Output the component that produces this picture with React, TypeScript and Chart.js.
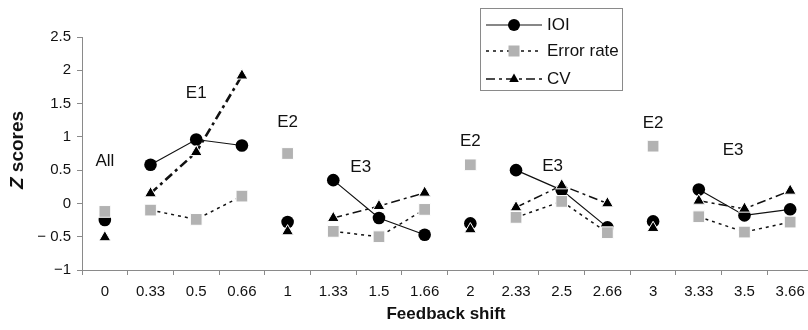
import React, { useEffect, useRef } from "react";
import { Chart, registerables } from "chart.js";

Chart.register(...registerables);

const categories = ["0", "0.33", "0.5", "0.66", "1", "1.33", "1.5", "1.66", "2", "2.33", "2.5", "2.66", "3", "3.33", "3.5", "3.66"];
const ioi = [-0.25, 0.58, 0.96, 0.87, -0.28, 0.35, -0.22, -0.47, -0.3, 0.5, 0.2, -0.36, -0.27, 0.21, -0.18, -0.09];
const errorRate = [-0.12, -0.1, -0.24, 0.11, 0.75, -0.42, -0.5, -0.09, 0.58, -0.21, 0.03, -0.44, 0.86, -0.2, -0.43, -0.28];
const cv = [-0.51, 0.15, 0.77, 1.92, -0.42, -0.22, -0.04, 0.16, -0.39, -0.06, 0.27, 0.0, -0.37, 0.04, -0.08, 0.19];
// indices of points that start a drawn segment (groups E1 and E3)
const linkedStarts = [1, 2, 5, 6, 9, 10, 13, 14];
const annotLabels = ["All", "E1", "E2", "E3", "E2", "E3", "E2", "E3"];
const annotX = [0, 2, 4, 5.6, 8, 9.8, 12, 13.75];
const annotY = [0.63, 1.65, 1.22, 0.54, 0.93, 0.56, 1.2, 0.8];
const yMin = -1;
const yMax = 2.5;
const yStep = 0.5;

const FONT = "'Liberation Sans', Arial, sans-serif";
const GRAY_SQ = "#b2b2b2";
const AXIS = "#8a8a8a";

const linked = (ctx: any) => linkedStarts.includes(ctx.p0DataIndex);

const overlayPlugin = {
  id: "overlay",
  afterDraw(chart: any) {
    const { ctx, scales } = chart;
    const xs = scales.x;
    const ys = scales.y;
    ctx.save();
    // annotations
    ctx.fillStyle = "#111";
    ctx.font = `17px ${FONT}`;
    ctx.textAlign = "center";
    ctx.textBaseline = "middle";
    annotLabels.forEach((t, i) => {
      ctx.fillText(t, xs.getPixelForValue(annotX[i]), ys.getPixelForValue(annotY[i]));
    });
    // x title
    ctx.font = `bold 17px ${FONT}`;
    ctx.fillText("Feedback shift", 446, 314);
    // y title
    ctx.save();
    ctx.translate(18, 150);
    ctx.rotate(-Math.PI / 2);
    ctx.font = `italic bold 19px ${FONT}`;
    const zw = ctx.measureText("Z").width;
    ctx.font = `bold 19px ${FONT}`;
    const sw = ctx.measureText(" scores").width;
    const start = -(zw + sw) / 2;
    ctx.textAlign = "left";
    ctx.font = `italic bold 19px ${FONT}`;
    ctx.fillText("Z", start, 0);
    ctx.font = `bold 19px ${FONT}`;
    ctx.fillText(" scores", start + zw, 0);
    ctx.restore();

    // legend
    const bx = 480.5, by = 8.5, bw = 142, bh = 82;
    ctx.strokeStyle = AXIS;
    ctx.lineWidth = 1;
    ctx.strokeRect(bx, by, bw, bh);
    const rows = [
      { y: 25, label: "IOI", dash: [] as number[], w: 1.2 },
      { y: 51, label: "Error rate", dash: [3, 4], w: 1.5 },
      { y: 79, label: "CV", dash: [9, 4, 3, 4], w: 1.5 },
    ];
    rows.forEach((r, i) => {
      ctx.save();
      ctx.strokeStyle = "#111";
      ctx.lineWidth = r.w;
      ctx.setLineDash(r.dash);
      ctx.beginPath();
      ctx.moveTo(486, r.y);
      ctx.lineTo(542, r.y);
      ctx.stroke();
      ctx.restore();
      const mx = 514;
      if (i === 0) {
        ctx.fillStyle = "#000";
        ctx.beginPath();
        ctx.arc(mx, r.y, 6, 0, Math.PI * 2);
        ctx.fill();
      } else if (i === 1) {
        ctx.fillStyle = GRAY_SQ;
        ctx.fillRect(mx - 5.5, r.y - 5.5, 11, 11);
      } else {
        ctx.fillStyle = "#000";
        ctx.beginPath();
        ctx.moveTo(mx, r.y - 5.5);
        ctx.lineTo(mx + 4.8, r.y + 3);
        ctx.lineTo(mx - 4.8, r.y + 3);
        ctx.closePath();
        ctx.fill();
      }
      ctx.fillStyle = "#111";
      ctx.font = `17px ${FONT}`;
      ctx.textAlign = "left";
      ctx.textBaseline = "middle";
      ctx.fillText(r.label, 547, r.y);
    });
    ctx.restore();
  },
};

export default function App() {
  const ref = useRef<HTMLCanvasElement | null>(null);
  useEffect(() => {
    if (!ref.current) return;
    const chart = new Chart(ref.current, {
      type: "line",
      data: {
        labels: categories,
        datasets: [
          {
            label: "IOI",
            data: ioi,
            order: 3,
            borderColor: "#111",
            borderWidth: 1.2,
            pointStyle: "circle",
            pointRadius: 6.3,
            pointBackgroundColor: "#000",
            pointBorderColor: "#000",
            pointBorderWidth: 0,
            segment: {
              borderColor: (c: any) => (linked(c) ? "#111" : "rgba(0,0,0,0)"),
            },
          },
          {
            label: "Error rate",
            data: errorRate,
            order: 2,
            borderColor: "#111",
            borderWidth: 1.5,
            borderDash: [3, 4],
            pointStyle: "rect",
            pointRadius: 8.3,
            pointBackgroundColor: GRAY_SQ,
            pointBorderColor: "#fff",
            pointBorderWidth: 1,
            segment: {
              borderColor: (c: any) => (linked(c) ? "#111" : "rgba(0,0,0,0)"),
            },
          },
          {
            label: "CV",
            data: cv,
            order: 1,
            borderColor: "#111",
            borderWidth: 1.5,
            borderDash: [9, 4, 3, 4],
            pointStyle: "triangle",
            pointRadius: 6.8,
            pointBackgroundColor: "#000",
            pointBorderColor: "#fff",
            pointBorderWidth: 1,
            segment: {
              borderColor: (c: any) => (linked(c) ? "#111" : "rgba(0,0,0,0)"),
              borderWidth: (c: any) => (c.p0DataIndex === 1 || c.p0DataIndex === 2 ? 2.6 : 1.5),
            },
          },
        ],
      },
      options: {
        responsive: false,
        maintainAspectRatio: false,
        animation: false,
        devicePixelRatio: 1,
        layout: { padding: { left: 0, right: 17, top: 37, bottom: 0 } },
        plugins: { legend: { display: false }, tooltip: { enabled: false } },
        scales: {
          x: {
            type: "category",
            offset: true,
            grid: { offset: true, drawOnChartArea: false, drawTicks: true, tickLength: 5, color: AXIS },
            border: { display: true, color: AXIS, width: 1 },
            ticks: { color: "#111", font: { family: FONT, size: 15 }, padding: 8, maxRotation: 0, autoSkip: false },
            afterFit: (s: any) => {
              s.height = 60;
            },
          },
          y: {
            min: yMin,
            max: yMax,
            grid: { drawOnChartArea: false, drawTicks: true, tickLength: 5, color: AXIS },
            border: { display: true, color: AXIS, width: 1 },
            ticks: {
              stepSize: yStep,
              color: "#111",
              font: { family: FONT, size: 15 },
              padding: 6,
              callback: (v: any) => {
                const n = Number(v);
                if (n < 0) return n === -0.5 ? "\u2212 0.5" : "\u2212" + String(-n);
                return String(n);
              },
            },
            afterFit: (s: any) => {
              s.width = 82;
            },
          },
        },
      },
      plugins: [overlayPlugin],
    });
    return () => chart.destroy();
  }, []);
  return (
    <div style={{ position: "fixed", left: 0, top: 0, width: 808, height: 330, overflow: "hidden", background: "#fff" }}>
      <canvas ref={ref} width={830} height={330} style={{ display: "block", width: 830, height: 330 }} />
    </div>
  );
}
